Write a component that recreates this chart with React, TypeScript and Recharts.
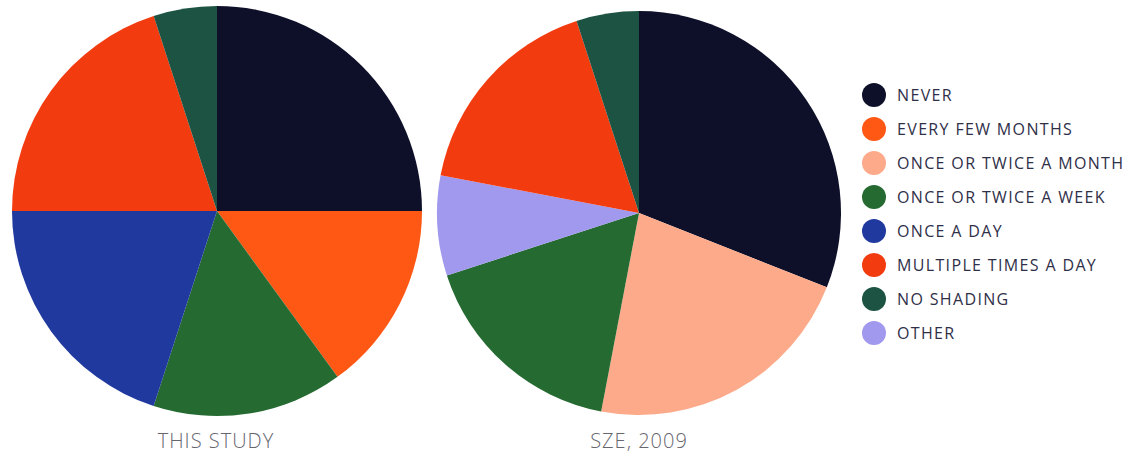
import React from 'react';
import { PieChart, Pie, Cell, Legend } from 'recharts';

// response categories and their colours
const categories = [
  'NEVER',
  'EVERY FEW MONTHS',
  'ONCE OR TWICE A MONTH',
  'ONCE OR TWICE A WEEK',
  'ONCE A DAY',
  'MULTIPLE TIMES A DAY',
  'NO SHADING',
  'OTHER',
];

const colors: Record<string, string> = {
  'NEVER': '#0e1029',
  'EVERY FEW MONTHS': '#ff5714',
  'ONCE OR TWICE A MONTH': '#fcaa8a',
  'ONCE OR TWICE A WEEK': '#246a31',
  'ONCE A DAY': '#1f399e',
  'MULTIPLE TIMES A DAY': '#f23b0f',
  'NO SHADING': '#1c5342',
  'OTHER': '#a099ee',
};

// percent of respondents, clockwise from 12 o'clock
const studyNames = ['NEVER', 'EVERY FEW MONTHS', 'ONCE OR TWICE A WEEK', 'ONCE A DAY', 'MULTIPLE TIMES A DAY', 'NO SHADING'];
const studyValues = [25, 15, 15, 20, 20, 5];

const szeNames = ['NEVER', 'ONCE OR TWICE A MONTH', 'ONCE OR TWICE A WEEK', 'OTHER', 'MULTIPLE TIMES A DAY', 'NO SHADING'];
const szeValues = [31, 22, 17, 8, 17, 5];

const titles = ['THIS STUDY', 'SZE, 2009'];

const studyData = studyNames.map((name, i) => ({ name, value: studyValues[i] }));
const szeData = szeNames.map((name, i) => ({ name, value: szeValues[i] }));

const LegendList = () => (
  <div style={{ fontFamily: '"Open Sans", sans-serif', fontSize: 16, color: '#2f2f48' }}>
    {categories.map((c) => (
      <div key={c} style={{ display: 'flex', alignItems: 'center', height: 34 }}>
        <span
          style={{
            width: 24,
            height: 24,
            borderRadius: '50%',
            background: colors[c],
            marginRight: 11,
            flexShrink: 0,
          }}
        />
        <span style={{ letterSpacing: 1.35, whiteSpace: 'nowrap' }}>{c}</span>
      </div>
    ))}
  </div>
);

const titleStyle = {
  fontFamily: '"Open Sans", sans-serif',
  fontSize: 20,
  fontWeight: 300,
  letterSpacing: 1,
  fill: '#66666e',
};

const App: React.FC = () => {
  return (
    <div style={{ position: 'absolute', left: 0, top: 0, width: 1129, height: 458, background: '#fff' }}>
      <PieChart width={1129} height={458} margin={{ top: 0, right: 0, bottom: 0, left: 0 }}>
        <Pie
          data={studyData}
          dataKey="value"
          nameKey="name"
          cx={217}
          cy={211}
          outerRadius={205}
          startAngle={90}
          endAngle={-270}
          stroke="none"
          isAnimationActive={false}
        >
          {studyData.map((d) => (
            <Cell key={d.name} fill={colors[d.name]} />
          ))}
        </Pie>
        <Pie
          data={szeData}
          dataKey="value"
          nameKey="name"
          cx={639}
          cy={213}
          outerRadius={202}
          startAngle={90}
          endAngle={-270}
          stroke="none"
          isAnimationActive={false}
        >
          {szeData.map((d) => (
            <Cell key={d.name} fill={colors[d.name]} />
          ))}
        </Pie>
        <text x={216} y={448} textAnchor="middle" style={titleStyle}>
          {titles[0]}
        </text>
        <text x={639} y={448} textAnchor="middle" style={titleStyle}>
          {titles[1]}
        </text>
        <Legend
          content={<LegendList />}
          layout="vertical"
          wrapperStyle={{ position: 'absolute', left: 862, top: 78, width: 267 }}
        />
      </PieChart>
    </div>
  );
};

export default App;
